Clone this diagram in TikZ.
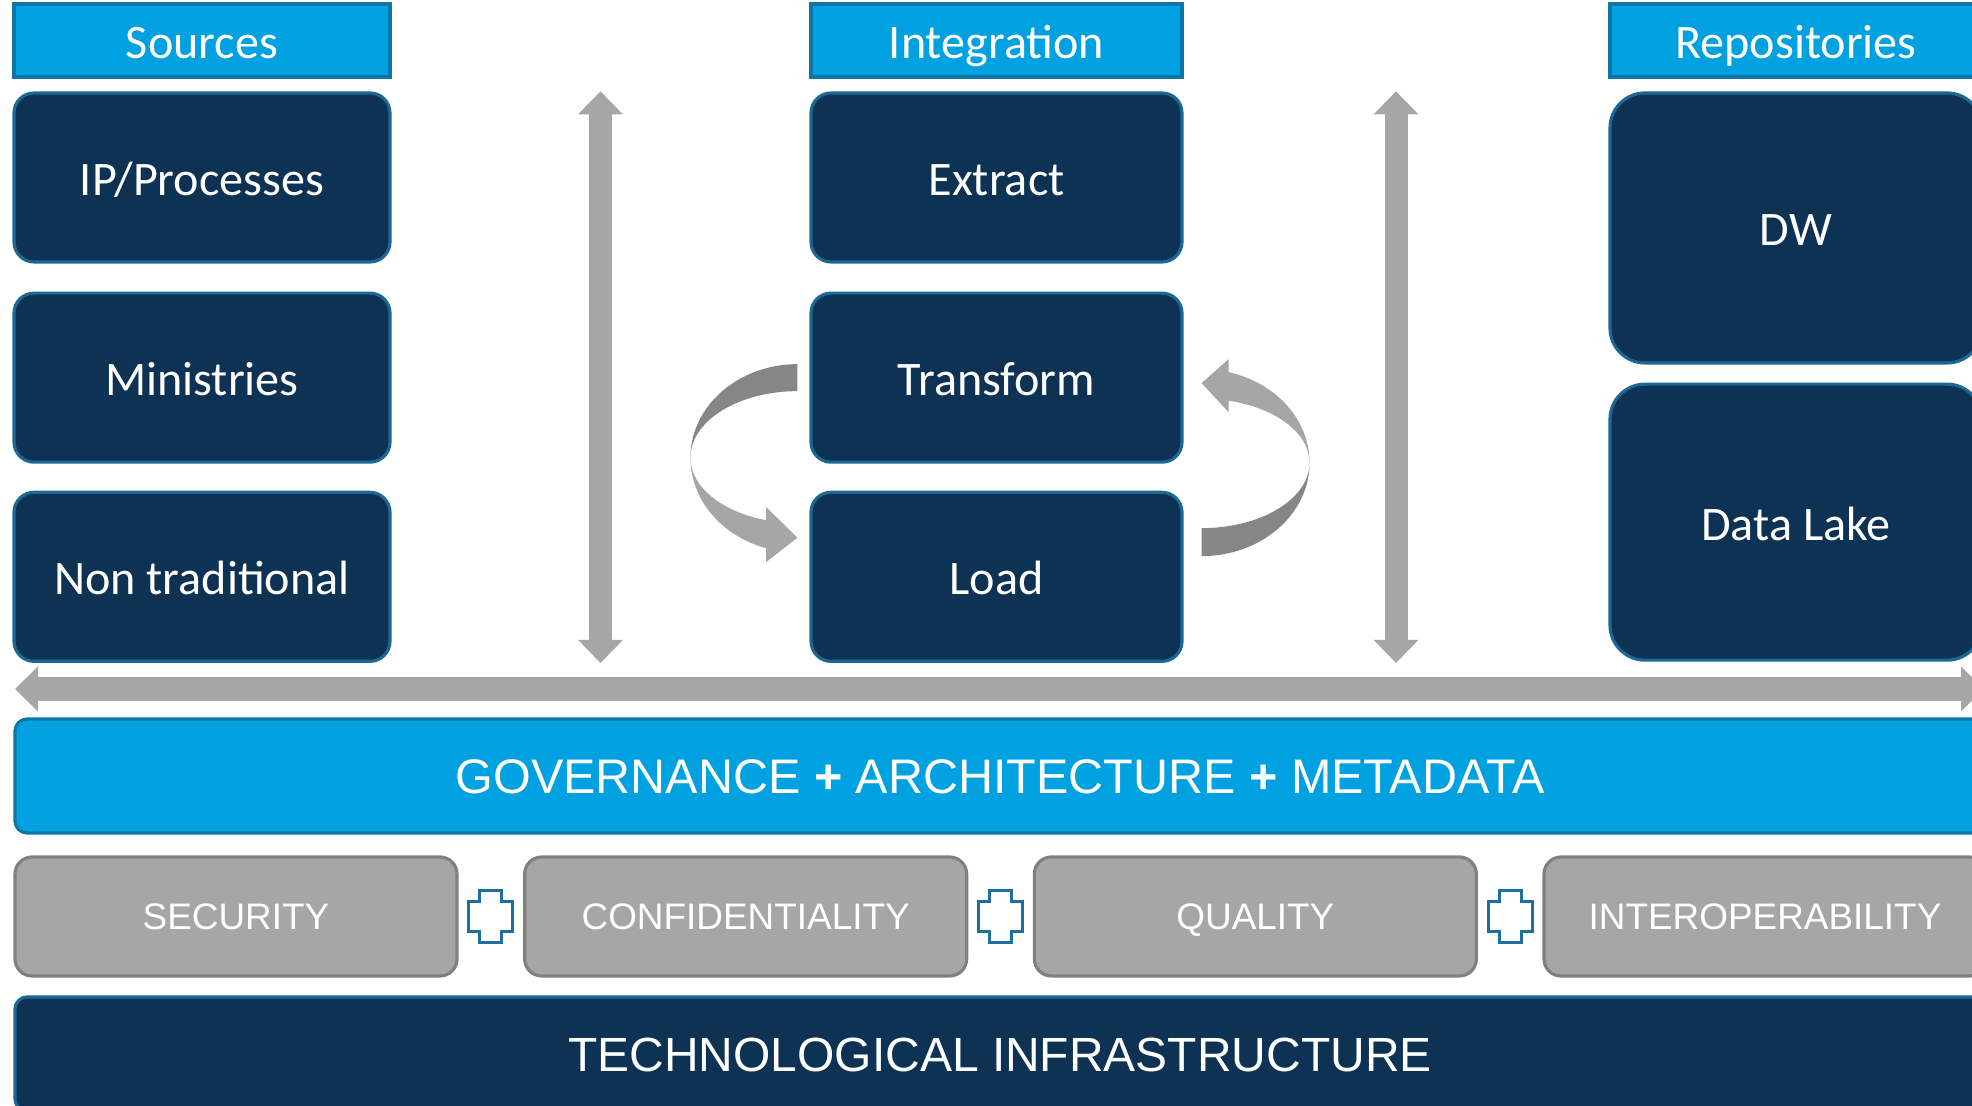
\documentclass[tikz,border=0pt]{standalone}
\usepackage{fontspec}
\setmainfont{Carlito}
\newfontfamily\arialfont{Liberation Sans}
\usepackage{tikz}
\usetikzlibrary{arrows.meta,positioning,calc}
\usepackage{xcolor}
\definecolor{etlnavy}{RGB}{13,50,84}
\definecolor{etlnavyedge}{RGB}{28,104,148}
\definecolor{etlcyan}{RGB}{0,161,224}
\definecolor{etlcyanedge}{RGB}{12,118,168}
\definecolor{etlgrey}{RGB}{166,166,166}
\definecolor{etlgreyedge}{RGB}{128,128,128}
\definecolor{etlribbon}{RGB}{134,134,134}
\definecolor{etlplus}{RGB}{31,110,160}

\begin{document}
\begin{tikzpicture}[
    hdr/.style={draw=etlcyanedge, line width=0.9pt, fill=etlcyan, text=white,
        minimum width=3.72cm, minimum height=0.73cm,
        font=\fontsize{13.7}{16}\selectfont, text height=10.2pt, text depth=0pt},
    blk/.style={draw=etlnavyedge, line width=0.9pt, fill=etlnavy, text=white,
        rounded corners=0.2cm, minimum width=3.76cm, minimum height=1.69cm,
        font=\fontsize{13.7}{16}\selectfont, text height=10.2pt, text depth=0pt},
    repo/.style={blk, rounded corners=0.35cm, minimum width=3.72cm},
    layer/.style={line width=0.9pt, text=white, rounded corners=0.12cm,
        minimum width=19.7cm, minimum height=1.14cm,
        font=\arialfont\fontsize{13.8}{16}\selectfont, text height=9.9pt, text depth=0pt},
    pillar/.style={draw=etlgreyedge, line width=0.9pt, fill=etlgrey, text=white,
        rounded corners=0.17cm, minimum width=4.42cm, minimum height=1.19cm,
        font=\arialfont\fontsize{10.5}{12}\selectfont, text height=7.5pt, text depth=0pt},
    twoway/.style={draw=etlgrey,
        {Triangle[length=0.23cm, width=0.45cm, line width=0pt]}-{Triangle[length=0.23cm, width=0.45cm, line width=0pt]}},
    plusline/.style={draw=etlplus, line width=0.9pt, fill=white}
]
\useasboundingbox (0,0) rectangle (19.72,11.06);
\clip (0,0) rectangle (19.72,11.06);

% Column headers
\node[hdr, minimum width=3.76cm] (sources) at (2.02,10.655) {Sources};
\node[hdr, minimum width=3.71cm] (integration) at (9.965,10.655) {Integration};
\node[hdr] (repositories) at (17.96,10.655) {Repositories};

% Sources
\node[blk] (ipproc) at (2.02,9.285) {IP/Processes};
\node[blk, below=0.28cm of ipproc] (ministries) {Ministries};
\node[blk, below=0.27cm of ministries] (nontrad) {Non traditional};

% Integration (ETL)
\node[blk, minimum width=3.71cm] (extract) at (9.965,9.285) {Extract};
\node[blk, minimum width=3.71cm, below=0.28cm of extract] (transform) {Transform};
\node[blk, minimum width=3.71cm, below=0.27cm of transform] (load) {Load};

% Repositories
\node[repo, minimum height=2.70cm] (dw) at (17.96,8.78) {DW};
\node[repo, minimum height=2.76cm, below=0.18cm of dw] (datalake) {Data Lake};

% Exchange between columns
\coordinate (gapL) at ($(ipproc.east)!0.5!(extract.west)$);
\coordinate (gapR) at ($(extract.east)!0.5!(dw.west)$);
\draw[twoway, line width=0.23cm] (gapL |- ipproc.north) -- (gapL |- nontrad.south);
\draw[twoway, line width=0.23cm] (gapR |- ipproc.north) -- (gapR |- nontrad.south);

% Common bus
\coordinate (busL) at (0.15,4.17);
\coordinate (busR) at (19.84,4.17);
\draw[twoway, line width=0.24cm] (busL) -- (busR);

% Transform -> Load loop (left ribbon)
\coordinate (lc) at ($(transform.west)+(-0.12,-0.80)$);
\fill[etlribbon] (lc) ++(0,0.935)
    arc[start angle=90, end angle=180, x radius=1.07, y radius=0.935]
    arc[start angle=180, end angle=90, x radius=1.07, y radius=0.665] -- cycle;
\fill[etlgrey] (lc) ++(-1.07,0)
    arc[start angle=180, end angle=253, x radius=1.07, y radius=0.947]
    -- ($(lc)+(-0.313,-1.045)$) -- ($(lc)+(0,-0.80)$) -- ($(lc)+(-0.313,-0.495)$)
    -- ($(lc)+(-0.313,-0.625)$)
    arc[start angle=253, end angle=180, x radius=1.07, y radius=0.654] -- cycle;

% Load -> Transform loop (right ribbon)
\coordinate (rc) at ($(transform.east)+(0.18,-0.85)$);
\fill[etlribbon] (rc) ++(0,-0.935)
    arc[start angle=270, end angle=360, x radius=1.08, y radius=0.935]
    arc[start angle=0, end angle=-90, x radius=1.08, y radius=0.655] -- cycle;
\fill[etlgrey] (rc) ++(1.08,0)
    arc[start angle=0, end angle=75.5, x radius=1.08, y radius=0.935]
    -- ($(rc)+(0.27,1.035)$) -- ($(rc)+(0,0.795)$) -- ($(rc)+(0.27,0.505)$)
    -- ($(rc)+(0.27,0.62)$)
    arc[start angle=75.5, end angle=0, x radius=1.08, y radius=0.64] -- cycle;

% Governance layer
\node[layer, draw=etlcyanedge, fill=etlcyan] (governance) at (10.0,3.30)
    {GOVERNANCE \textbf{+} ARCHITECTURE \textbf{+} METADATA};

% Pillars
\node[pillar] (security) at (2.36,1.895) {SECURITY};
\node[pillar, right=0.645cm of security] (confid) {CONFIDENTIALITY};
\node[pillar, right=0.645cm of confid] (quality) {QUALITY};
\node[pillar, right=0.645cm of quality] (interop) {INTEROPERABILITY};

\foreach \a/\b in {security/confid, confid/quality, quality/interop} {
    \coordinate (pl) at ($(\a.east)!0.5!(\b.west)$);
    \draw[plusline] (pl) ++(-0.11,0.26) -- ++(0.22,0) -- ++(0,-0.11) -- ++(0.11,0)
        -- ++(0,-0.30) -- ++(-0.11,0) -- ++(0,-0.11) -- ++(-0.22,0) -- ++(0,0.11)
        -- ++(-0.11,0) -- ++(0,0.30) -- ++(0.11,0) -- cycle;
}

% Infrastructure layer
\node[layer, draw=etlnavyedge, fill=etlnavy, font=\arialfont\fontsize{13.65}{16}\selectfont]
    (infra) at (10.0,0.52) {TECHNOLOGICAL INFRASTRUCTURE};
\end{tikzpicture}
\end{document}
